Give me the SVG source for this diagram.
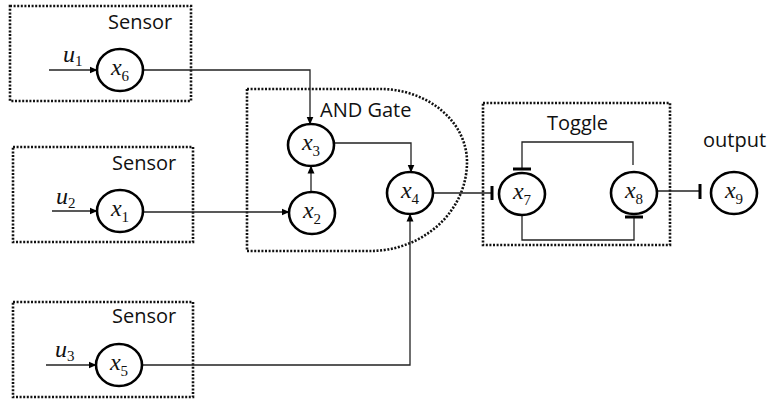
<svg xmlns="http://www.w3.org/2000/svg" width="774" height="400" viewBox="0 0 774 400">
<defs>
<style>
.box{fill:none;stroke:#111;stroke-width:2.6;stroke-dasharray:2 1.6}
.node{fill:#fff;stroke:#000;stroke-width:2.6}
.lbl{font-family:"Open Sans","Liberation Sans",sans-serif;font-size:20px;fill:#111}
.var{font-family:"Liberation Serif",serif;font-style:italic;font-size:24px;fill:#111}
.sub{font-size:15px;font-style:normal}
.edge{fill:none;stroke:#222;stroke-width:1.3}
.bar{stroke:#000;stroke-width:3;fill:none}
</style>
<marker id="arr" markerWidth="8" markerHeight="8" refX="7.5" refY="4" orient="auto" markerUnits="userSpaceOnUse">
<path d="M0,0.5 L8,4 L0,7.5 Z" fill="#000"/>
</marker>
</defs>
<rect width="774" height="400" fill="#fff"/>

<g id="sensor1">
<rect class="box" x="10" y="6" width="181" height="95"/>
<text class="lbl" x="108" y="29">Sensor</text>
</g>
<g id="sensor2">
<rect class="box" x="13" y="147" width="180" height="95"/>
<text class="lbl" x="112" y="170">Sensor</text>
</g>
<g id="sensor3">
<rect class="box" x="13" y="302" width="180" height="95"/>
<text class="lbl" x="112" y="323">Sensor</text>
</g>
<g id="andgate">
<path class="box" d="M247,89 H380 A87,73 0 0 1 467,162 A97,89 0 0 1 370,251 H247 Z"/>
<text class="lbl" x="320" y="117">AND Gate</text>
</g>
<g id="toggle">
<rect class="box" x="483" y="103" width="187" height="142"/>
<text class="lbl" x="547" y="130">Toggle</text>
</g>
<text id="output-label" class="lbl" x="703" y="147">output</text>

<g id="connectors">
<path class="edge" d="M49,70 H97" marker-end="url(#arr)"/>
<path class="edge" d="M52,211 H97" marker-end="url(#arr)"/>
<path class="edge" d="M46,365 H96" marker-end="url(#arr)"/>
<path class="edge" d="M143,70 H310 V124" marker-end="url(#arr)"/>
<path class="edge" d="M143,212 H289" marker-end="url(#arr)"/>
<path class="edge" d="M311,192 V166" marker-end="url(#arr)"/>
<path class="edge" d="M334,143 H411 V172" marker-end="url(#arr)"/>
<path class="edge" d="M142,365 H410 V214" marker-end="url(#arr)"/>
<path class="edge" d="M433,193 H492"/>
<path class="bar" d="M492,186 V200"/>
<path class="edge" d="M633,165 V142 H522 V169"/>
<path class="bar" d="M513,169 H531"/>
<path class="edge" d="M522,216 V240 H634 V217"/>
<path class="bar" d="M625,217 H643"/>
<path class="edge" d="M657,191 H700"/>
<path class="bar" d="M700,184 V199"/>
</g>

<g id="u1"><text class="var" x="63" y="62">u<tspan class="sub" dy="4">1</tspan></text></g>
<g id="u2"><text class="var" x="56" y="204">u<tspan class="sub" dy="4">2</tspan></text></g>
<g id="u3"><text class="var" x="55" y="357">u<tspan class="sub" dy="4">3</tspan></text></g>

<g id="x6"><ellipse class="node" cx="120" cy="70" rx="23" ry="21"/><text class="var" x="120" y="75" text-anchor="middle">x<tspan class="sub" dy="6">6</tspan></text></g>
<g id="x1"><ellipse class="node" cx="120" cy="211" rx="23" ry="21"/><text class="var" x="120" y="216" text-anchor="middle">x<tspan class="sub" dy="6">1</tspan></text></g>
<g id="x5"><ellipse class="node" cx="119" cy="365" rx="23" ry="21"/><text class="var" x="119" y="370" text-anchor="middle">x<tspan class="sub" dy="6">5</tspan></text></g>
<g id="x3"><ellipse class="node" cx="311" cy="145" rx="23" ry="21"/><text class="var" x="311" y="150" text-anchor="middle">x<tspan class="sub" dy="6">3</tspan></text></g>
<g id="x2"><ellipse class="node" cx="312" cy="213" rx="23" ry="21"/><text class="var" x="312" y="218" text-anchor="middle">x<tspan class="sub" dy="6">2</tspan></text></g>
<g id="x4"><ellipse class="node" cx="410" cy="193" rx="23" ry="21"/><text class="var" x="410" y="198" text-anchor="middle">x<tspan class="sub" dy="6">4</tspan></text></g>
<g id="x7"><ellipse class="node" cx="522" cy="194" rx="23" ry="21"/><text class="var" x="522" y="199" text-anchor="middle">x<tspan class="sub" dy="6">7</tspan></text></g>
<g id="x8"><ellipse class="node" cx="634" cy="193" rx="23" ry="21"/><text class="var" x="634" y="198" text-anchor="middle">x<tspan class="sub" dy="6">8</tspan></text></g>
<g id="x9"><ellipse class="node" cx="734" cy="193" rx="23" ry="21"/><text class="var" x="734" y="198" text-anchor="middle">x<tspan class="sub" dy="6">9</tspan></text></g>
</svg>
